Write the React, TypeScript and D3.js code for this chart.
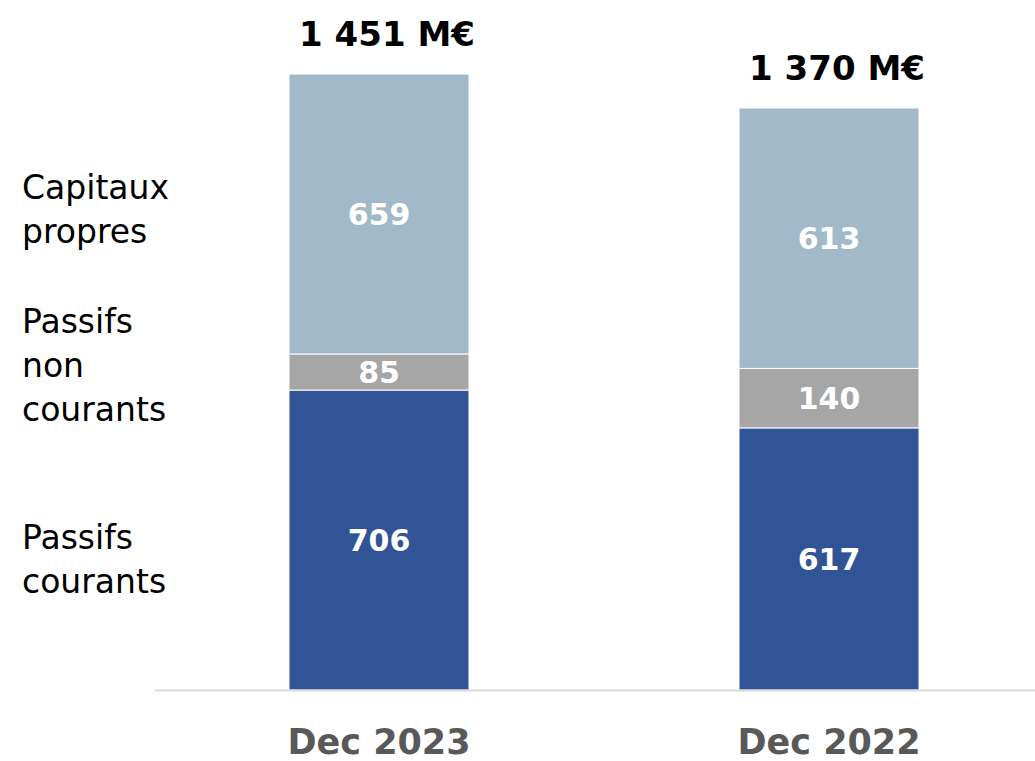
import React from "react";
import * as d3 from "d3";

// bilan passif, en M€
const periods = ["Dec 2023", "Dec 2022"];
const totals = ["1 451 M€", "1 370 M€"];
const passifsCourants = [706, 617];
const passifsNonCourants = [85, 140];
const capitauxPropres = [659, 613];

const seriesKeys = ["courants", "nonCourants", "capitaux"];
const seriesColors = ["#305496", "#A6A6A6", "#A2B9C9"];

// libellés de gauche, une ligne par entrée
const legendLines = [
    { lines: ["Capitaux", "propres"], y: 199 },
    { lines: ["Passifs", "non", "courants"], y: 333 },
    { lines: ["Passifs", "courants"], y: 549 },
];

const W = 1035;
const H = 761;
const font = "'DejaVu Sans', sans-serif";

export default function App() {
    const rows = periods.map((p, i) => ({
        period: p,
        courants: passifsCourants[i],
        nonCourants: passifsNonCourants[i],
        capitaux: capitauxPropres[i],
    }));

    const stack = d3.stack().keys(seriesKeys);
    const layers = stack(rows as any);

    const maxTotal = d3.max(rows, d => d.courants + d.nonCourants + d.capitaux) || 0;

    const x = d3.scaleBand()
        .domain(periods)
        .range([154, 1054])
        .paddingInner(0.6)
        .paddingOuter(0.3);

    const y = d3.scaleLinear()
        .domain([0, maxTotal])
        .range([690, 74]);

    return (
        <svg
            width={W}
            height={H}
            style={{ position: "absolute", left: 0, top: 0, background: "white" }}
            fontFamily={font}
        >
            {layers.map((layer, li) => (
                <g key={li}>
                    {layer.map((d, i) => {
                        const bx = x(periods[i]) || 0;
                        const y0 = y(d[0]);
                        const y1 = y(d[1]);
                        return (
                            <g key={i}>
                                <rect
                                    x={bx}
                                    y={y1}
                                    width={x.bandwidth()}
                                    height={y0 - y1}
                                    fill={seriesColors[li]}
                                    stroke="white"
                                    strokeWidth={1}
                                />
                                <text
                                    x={bx + x.bandwidth() / 2}
                                    y={(y0 + y1) / 2}
                                    dy="0.36em"
                                    textAnchor="middle"
                                    fontSize="30px"
                                    fontWeight="bold"
                                    fill="white"
                                >
                                    {d[1] - d[0]}
                                </text>
                            </g>
                        );
                    })}
                </g>
            ))}

            {/* totaux au-dessus des barres */}
            {rows.map((r, i) => (
                <text
                    key={i}
                    x={(x(r.period) || 0) + x.bandwidth() / 2 + 8}
                    y={y(r.courants + r.nonCourants + r.capitaux) - 28}
                    textAnchor="middle"
                    fontSize="34px"
                    fontWeight="bold"
                    fill="#000"
                >
                    {totals[i]}
                </text>
            ))}

            {/* axe */}
            <line x1={155} x2={W} y1={690.5} y2={690.5} stroke="#D9D9D9" strokeWidth={2} />
            {periods.map(p => (
                <text
                    key={p}
                    x={(x(p) || 0) + x.bandwidth() / 2}
                    y={754}
                    textAnchor="middle"
                    fontSize="35px"
                    fontWeight="bold"
                    fill="#595959"
                >
                    {p}
                </text>
            ))}

            {/* libellés des séries */}
            {legendLines.map((l, i) => (
                <text key={i} x={22} y={l.y} fontSize="33px" fill="#000">
                    {l.lines.map((t, j) => (
                        <tspan key={j} x={22} dy={j === 0 ? 0 : 44}>{t}</tspan>
                    ))}
                </text>
            ))}
        </svg>
    );
}
